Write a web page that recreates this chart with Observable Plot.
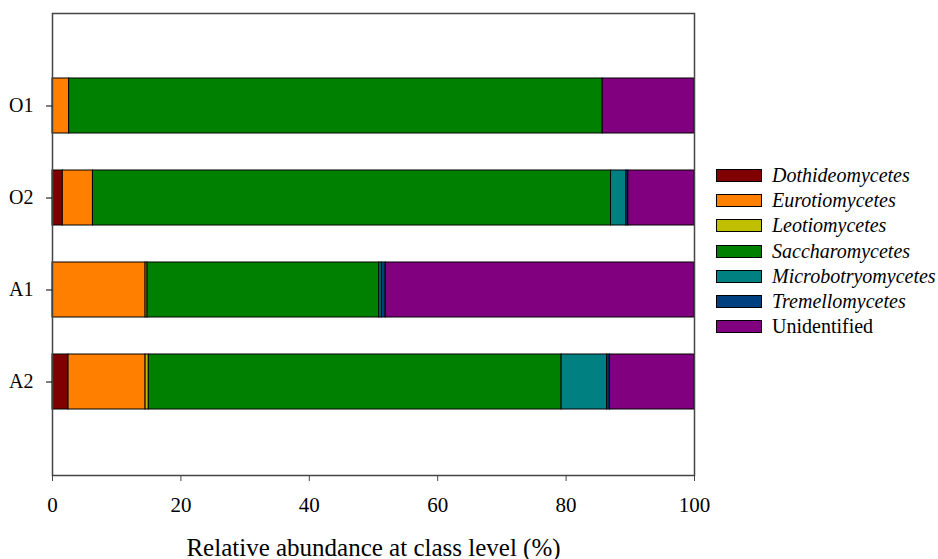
<!DOCTYPE html>
<html>
<head>
<meta charset="utf-8">
<script src="https://cdn.jsdelivr.net/npm/d3@7"></script>
<script src="https://cdn.jsdelivr.net/npm/@observablehq/plot@0.6"></script>
<style>
  body { margin: 0; background: #fff; }
  #wrap { position: relative; width: 938px; height: 559px; }
  #legend { position: absolute; left: 716px; top: 163px; font-family: "Liberation Serif", "Times New Roman", serif; font-size: 20px; color: #000; }
  .item { display: flex; align-items: center; height: 25.2px; white-space: nowrap; }
  .sw { width: 46px; height: 13px; border: 1px solid #000; box-sizing: border-box; margin-right: 10px; }
</style>
</head>
<body>
<div id="wrap"><div id="legend"></div></div>
<script>
const samples = ["O1", "O2", "A1", "A2"];
const classes = ["Dothideomycetes", "Eurotiomycetes", "Leotiomycetes", "Saccharomycetes", "Microbotryomycetes", "Tremellomycetes", "Unidentified"];
const italicClass = [true, true, true, true, true, true, false];
const colors = ["#7f0000", "#ff8000", "#c0c000", "#008000", "#008080", "#004080", "#800080"];
// values (%) per class, in sample order O1, O2, A1, A2
const dothideomycetes    = [0,    1.6,  0,    2.5];
const eurotiomycetes     = [2.6,  4.7,  14.5, 12.0];
const leotiomycetes      = [0,    0,    0.3,  0.5];
const saccharomycetes    = [83.1, 80.7, 36.1, 64.3];
const microbotryomycetes = [0,    2.4,  0.4,  7.1];
const tremellomycetes    = [0,    0.3,  0.6,  0.4];
const unidentified       = [14.3, 10.3, 48.1, 13.2];
const xTicks = [0, 20, 40, 60, 80, 100];
const xLabel = "Relative abundance at class level (%)";

const series = [dothideomycetes, eurotiomycetes, leotiomycetes, saccharomycetes, microbotryomycetes, tremellomycetes, unidentified];
const rows = [];
samples.forEach((s, i) => {
  classes.forEach((c, j) => {
    if (series[j][i] > 0) rows.push({sample: s, cls: c, value: series[j][i]});
  });
});

const serif = "'Liberation Serif', 'Times New Roman', serif";
const chart = Plot.plot({
  width: 938,
  height: 559,
  marginLeft: 52,
  marginRight: 244,
  marginTop: 13,
  marginBottom: 84,
  style: {fontFamily: serif, fontSize: "20px", color: "#000", background: "#fff"},
  x: {domain: [0, 100], ticks: xTicks, label: null},
  y: {domain: samples, paddingInner: 0.4, paddingOuter: 0.7, label: null},
  color: {domain: classes, range: colors},
  marks: [
    Plot.barX(rows, {x: "value", y: "sample", fill: "cls", stroke: "#000", strokeWidth: 1}),
    Plot.frame({stroke: "#444", strokeWidth: 1.5}),
    Plot.axisX({ticks: xTicks, tickSize: 6, tickPadding: 16, stroke: "#444", fontSize: 21, fontFamily: serif, label: null}),
    Plot.axisY({tickSize: 6, tickPadding: 13, stroke: "#000", fontSize: 20, fontFamily: serif, label: null}),
    Plot.text([xLabel], {frameAnchor: "bottom", dy: 72, fontSize: 25, fontFamily: serif, fill: "#000", lineAnchor: "middle"})
  ]
});
document.getElementById("wrap").prepend(chart);

const legend = document.getElementById("legend");
classes.forEach((c, j) => {
  const it = document.createElement("div");
  it.className = "item";
  const sw = document.createElement("div");
  sw.className = "sw";
  sw.style.background = colors[j];
  const t = document.createElement("span");
  t.textContent = c;
  if (italicClass[j]) t.style.fontStyle = "italic";
  it.appendChild(sw);
  it.appendChild(t);
  legend.appendChild(it);
});
</script>
</body>
</html>
